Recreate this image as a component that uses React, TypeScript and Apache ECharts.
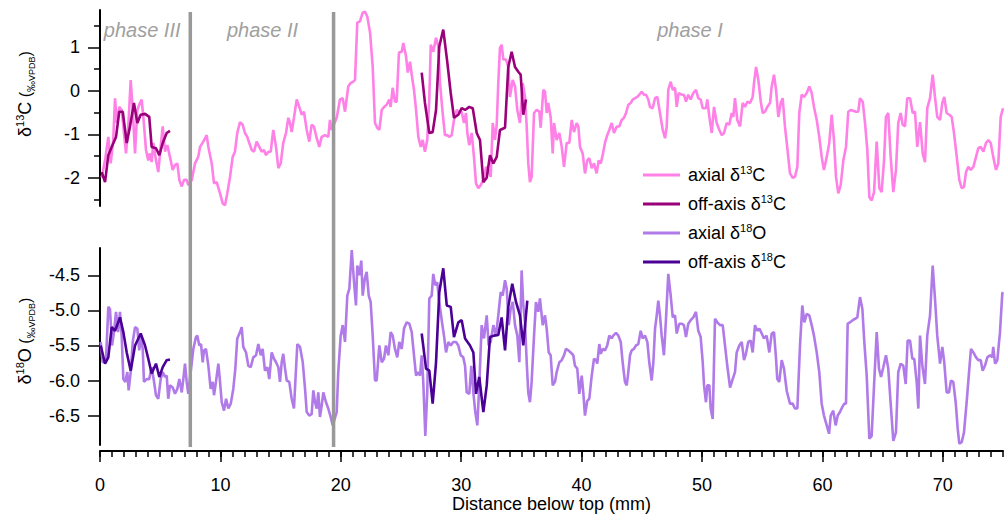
import React, { useEffect, useRef } from "react";
import * as echarts from "echarts";

const FONT = '"Liberation Sans", Arial, Helvetica, sans-serif';

// ---------- data: [distance (mm), value] ----------
const axialC13 = [
  [0.14,-2.0],[0.42,-1.6],[0.69,-1.06],[0.89,-1.67],[1.10,-1.13],[1.25,-0.17],[1.39,-0.74],[1.60,-0.37],[1.80,-0.44],[1.94,-0.82],
  [2.16,-1.44],[2.35,-0.82],[2.55,0.25],[2.72,-0.44],[2.91,-1.44],[3.10,-0.44],[3.32,-0.28],[3.46,-0.2],[3.60,-0.6],[3.82,-1.36],
  [4.01,-1.6],[4.15,-1.44],[4.29,-1.64],[4.43,-1.2],[4.65,-1.6],[4.84,-1.87],[5.04,-1.29],[5.21,-0.82],[5.40,-1.4],[5.59,-1.25],
  [5.81,-1.52],[6.04,-1.82],[6.23,-1.71],[6.42,-1.67],[6.59,-2.05],[6.79,-2.2],[6.98,-2.05],[7.20,-2.05],[7.33,-2.17],[7.62,-2.05],
  [7.89,-1.67],[8.16,-1.52],[8.31,-1.29],[8.58,-1.17],[8.86,-1.02],[9.00,-1.29],[9.28,-1.67],[9.47,-2.13],[9.69,-2.1],[9.97,-2.36],
  [10.19,-2.59],[10.38,-2.63],[10.57,-2.36],[10.80,-1.98],[11.02,-1.52],[11.21,-1.4],[11.40,-0.97],[11.63,-0.72],[11.85,-0.78],[12.04,-0.97],
  [12.23,-1.06],[12.40,-1.2],[12.60,-1.36],[12.79,-1.4],[13.01,-1.17],[13.23,-1.29],[13.43,-1.4],[13.62,-1.36],[13.79,-1.48],[13.98,-1.4],
  [14.18,-1.4],[14.39,-0.9],[14.62,-1.29],[14.81,-1.78],[15.01,-1.67],[15.22,-1.2],[15.45,-0.97],[15.64,-0.62],[15.78,-0.74],[15.92,-0.95],
  [16.11,-0.62],[16.34,-0.2],[16.55,-0.37],[16.75,-0.55],[16.94,-0.48],[17.17,-0.9],[17.38,-1.17],[17.58,-0.78],[17.77,-0.82],[18.00,-1.09],
  [18.21,-1.29],[18.41,-1.06],[18.69,-1.02],[18.96,-1.06],[19.10,-0.67],[19.24,-0.9],[19.66,-0.62],[19.93,-0.2],[20.16,-0.17],[20.35,-0.48],
  [20.62,0.1],[20.82,0.18],[21.04,0.21],[21.18,0.25],[21.37,1.57],[21.59,1.6],[21.82,1.8],[22.01,1.82],[22.20,1.71],[22.43,1.34],
  [22.65,0.55],[22.84,-0.74],[23.03,-0.85],[23.20,-0.9],[23.40,-0.44],[23.59,-0.37],[23.81,-0.32],[24.03,-0.2],[24.14,-0.37],[24.31,0.07],
  [24.50,-0.25],[24.64,-0.25],[24.83,0.88],[25.06,0.9],[25.19,1.1],[25.42,0.79],[25.56,0.42],[25.75,0.67],[25.89,0.37],[26.08,0.02],
  [26.25,-0.44],[26.44,-1.06],[26.64,-1.29],[26.80,-1.13],[26.99,-1.4],[27.18,-1.13],[27.35,-0.2],[27.47,1.06],[27.68,0.9],[27.91,1.22],
  [28.10,1.02],[28.24,0.18],[28.46,-0.51],[28.65,-1.02],[28.85,-1.02],[29.01,-1.06],[29.21,-1.02],[29.40,-0.67],[29.63,-0.44],[29.84,-0.51],
  [30.04,-0.48],[30.23,-0.74],[30.40,-0.51],[30.51,-0.97],[30.67,-1.25],[30.87,-0.97],[31.06,-1.52],[31.23,-2.13],[31.42,-2.24],[31.62,-2.17],
  [31.84,-2.05],[32.06,-1.75],[32.25,-1.82],[32.45,-1.98],[32.62,-0.74],[32.81,-1.13],[32.95,-0.78],[33.08,0.18],[33.22,0.99],[33.36,1.06],
  [33.50,0.72],[33.72,0.72],[33.91,0.55],[34.05,-0.14],[34.28,0.25],[34.47,0.1],[34.66,-0.44],[34.88,-0.74],[35.11,0.18],[35.30,-0.14],
  [35.44,-0.82],[35.57,-1.67],[35.71,-2.1],[35.85,-1.98],[36.05,-0.51],[36.27,-0.44],[36.49,-0.48],[36.60,-0.85],[36.82,0.02],[36.96,-0.02],
  [37.10,-0.51],[37.23,-0.28],[37.43,-0.6],[37.60,-1.44],[37.71,-0.74],[37.93,-1.13],[38.15,-0.97],[38.35,-1.29],[38.54,-1.75],[38.76,-1.2],
  [38.98,-1.2],[39.18,-0.67],[39.37,-0.95],[39.59,-0.74],[39.73,-0.82],[39.87,-1.29],[40.09,-1.44],[40.28,-1.9],[40.47,-1.6],[40.64,-1.55],
  [40.84,-1.78],[41.03,-1.67],[41.25,-1.9],[41.42,-1.6],[41.59,-1.67],[41.75,-1.48],[41.94,-1.2],[42.13,-1.02],[42.30,-0.9],[42.50,-0.74],
  [42.69,-0.97],[42.92,-0.82],[43.13,-0.82],[43.33,-0.67],[43.52,-0.62],[43.69,-0.51],[43.88,-0.32],[44.08,-0.28],[44.24,-0.2],[44.44,-0.17],
  [44.63,-0.14],[44.79,-0.09],[44.99,-0.02],[45.18,-0.09],[45.35,-0.09],[45.54,-0.2],[45.68,-0.37],[45.90,-0.4],[46.10,-0.17],[46.29,-0.14],
  [46.51,-0.51],[46.74,-0.9],[46.93,-1.09],[47.07,-0.82],[47.20,0.02],[47.40,0.21],[47.57,0.02],[47.76,0.07],[47.90,-0.37],[48.06,-0.05],
  [48.31,-0.09],[48.50,-0.09],[48.67,-0.25],[48.86,-0.09],[49.06,-0.2],[49.28,-0.05],[49.50,0.02],[49.69,-0.17],[49.89,-0.2],[50.06,-0.4],
  [50.33,-0.4],[50.44,-0.2],[50.61,-0.6],[50.81,-0.97],[51.00,-0.37],[51.22,-0.74],[51.44,-0.9],[51.64,-1.02],[51.83,-0.97],[52.05,-0.74],
  [52.27,-0.78],[52.47,-0.51],[52.60,-0.6],[52.74,-0.17],[52.93,-0.67],[53.16,-0.82],[53.38,-0.28],[53.57,-0.37],[53.76,-0.25],[53.99,-0.28],
  [54.21,-0.14],[54.32,0.18],[54.49,0.55],[54.68,0.25],[54.88,-0.25],[55.04,-0.51],[55.23,-0.48],[55.42,-0.37],[55.65,-0.28],[55.79,0.1],
  [55.98,0.37],[56.15,0.02],[56.34,-0.6],[56.54,-0.28],[56.70,-0.17],[56.89,-0.82],[57.08,-1.3],[57.31,-1.9],[57.53,-2.0],[57.72,-1.98],
  [57.92,-1.75],[58.08,-0.51],[58.28,-0.09],[58.47,-0.14],[58.70,-0.05],[58.91,0.1],[59.11,-0.05],[59.30,-0.37],[59.53,-0.67],[59.74,-1.06],
  [59.94,-1.52],[60.13,-1.82],[60.36,-1.52],[60.57,-1.2],[60.77,-0.55],[60.96,-1.13],[61.13,-1.98],[61.32,-2.36],[61.52,-2.17],[61.74,-1.6],
  [61.96,-1.29],[62.15,-0.48],[62.35,-0.44],[62.57,-0.46],[62.79,-0.48],[62.98,-0.48],[63.12,-0.17],[63.35,-0.25],[63.54,-0.74],[63.73,-1.36],
  [63.90,-2.45],[64.09,-2.52],[64.29,-2.33],[64.51,-1.17],[64.73,-2.24],[64.92,-2.33],[65.12,-1.6],[65.28,-0.6],[65.47,-0.51],[65.67,-1.52],
  [65.89,-2.33],[66.11,-1.82],[66.30,-0.74],[66.50,-0.51],[66.67,-0.78],[66.86,-0.82],[67.05,-0.17],[67.28,-0.17],[67.50,-0.51],[67.69,-0.48],
  [67.88,-1.29],[68.11,-0.72],[68.33,-1.44],[68.52,-1.64],[68.71,-0.4],[68.94,-0.17],[69.16,0.37],[69.35,-0.14],[69.54,-0.6],[69.77,-0.67],
  [69.96,-0.28],[70.12,-0.14],[70.32,-0.51],[70.54,-0.55],[70.74,-0.6],[70.93,-0.97],[71.16,-1.52],[71.37,-2.05],[71.57,-2.24],[71.76,-2.21],
  [71.93,-1.87],[72.12,-1.75],[72.32,-1.82],[72.54,-1.75],[72.76,-1.52],[72.95,-1.32],[73.15,-1.29],[73.37,-1.4],[73.59,-1.2],[73.78,-1.13],
  [73.98,-1.2],[74.19,-1.52],[74.42,-1.82],[74.61,-1.67],[74.81,-0.6],[75.0,-0.4]
];

const offAxisC13A = [
  [0.14,-1.87],[0.42,-2.1],[0.69,-1.48],[0.97,-1.29],[1.33,-1.06],[1.60,-0.48],[1.89,-0.48],[2.22,-1.2],[2.49,-0.82],[2.82,-0.28],
  [3.10,-0.74],[3.38,-0.55],[3.74,-0.53],[4.09,-0.6],[4.29,-1.29],[4.65,-1.32],[4.93,-1.48],[5.21,-1.2],[5.54,-0.97],[5.81,-0.92]
];
const offAxisC13B = [
  [26.72,0.42],[26.99,-0.28],[27.35,-0.97],[27.63,-0.95],[27.91,-0.44],[28.18,1.02],[28.51,1.41],[28.85,0.65],[29.13,-0.05],[29.40,-0.62],
  [29.76,-0.55],[30.04,-0.4],[30.32,-0.44],[30.67,-0.37],[30.96,-0.4],[31.29,-0.97],[31.56,-1.13],[31.84,-2.1],[32.12,-2.0],[32.39,-1.48],
  [32.67,-1.67],[32.95,-1.52],[33.22,-0.9],[33.64,-0.85],[33.91,0.55],[34.19,0.9],[34.47,0.55],[34.74,0.44],[34.94,0.37],[35.16,-0.55],[35.38,-0.2]
];

const axialO18 = [
  [0.06,-5.45],[0.22,-5.74],[0.50,-5.71],[0.69,-4.95],[0.83,-4.98],[1.00,-5.5],[1.16,-5.31],[1.33,-5.02],[1.50,-5.31],[1.66,-5.02],
  [1.80,-5.36],[1.94,-5.98],[2.10,-6.02],[2.27,-5.88],[2.38,-6.14],[2.55,-5.88],[2.72,-5.45],[2.91,-5.24],[3.10,-5.26],[3.26,-5.57],
  [3.38,-5.38],[3.55,-5.55],[3.65,-6.02],[3.88,-5.98],[4.09,-5.98],[4.29,-5.81],[4.49,-6.02],[4.65,-6.21],[4.84,-6.26],[5.04,-5.98],
  [5.21,-5.88],[5.40,-5.95],[5.54,-5.93],[5.67,-6.26],[5.81,-6.07],[6.04,-6.1],[6.23,-6.19],[6.42,-6.12],[6.59,-5.98],[6.79,-6.17],
  [6.92,-5.98],[7.06,-5.76],[7.20,-6.02],[7.33,-6.19],[7.75,-5.55],[7.97,-5.38],[8.08,-5.36],[8.25,-5.5],[8.39,-5.48],[8.53,-5.74],
  [8.64,-5.57],[8.80,-5.55],[9.00,-5.79],[9.19,-6.12],[9.36,-6.02],[9.47,-6.21],[9.63,-6.02],[9.83,-5.76],[9.97,-6.02],[10.11,-6.31],
  [10.30,-6.43],[10.47,-6.26],[10.66,-6.4],[10.86,-6.33],[11.07,-6.12],[11.24,-5.83],[11.40,-5.4],[11.63,-5.31],[11.77,-5.24],[11.90,-5.52],
  [12.13,-5.6],[12.32,-5.79],[12.52,-5.81],[12.73,-5.67],[12.96,-5.64],[13.15,-5.48],[13.35,-5.64],[13.51,-5.55],[13.70,-5.86],[13.90,-5.81],
  [14.06,-5.98],[14.26,-5.6],[14.45,-5.69],[14.62,-5.74],[14.81,-5.81],[14.95,-6.02],[15.09,-5.74],[15.22,-5.62],[15.37,-5.83],[15.51,-6.0],
  [15.72,-6.02],[15.92,-6.26],[16.11,-6.4],[16.28,-5.83],[16.39,-5.48],[16.61,-5.52],[16.84,-5.74],[17.03,-6.12],[17.17,-6.45],[17.38,-6.5],
  [17.58,-6.48],[17.72,-6.14],[17.86,-6.31],[18.00,-6.4],[18.13,-6.17],[18.27,-6.52],[18.41,-6.36],[18.55,-6.17],[18.77,-6.31],[18.96,-6.4],
  [19.16,-6.52],[19.33,-6.64],[19.66,-6.45],[19.79,-5.88],[19.99,-5.36],[20.16,-5.21],[20.35,-5.45],[20.54,-4.79],[20.71,-4.69],[20.91,-4.14],
  [21.10,-4.6],[21.26,-4.93],[21.37,-4.36],[21.54,-4.5],[21.70,-4.29],[21.82,-4.79],[21.99,-4.55],[22.15,-4.45],[22.32,-4.79],[22.48,-4.88],
  [22.65,-5.36],[22.84,-6.0],[22.98,-6.0],[23.20,-5.5],[23.40,-5.74],[23.59,-5.69],[23.75,-5.5],[23.95,-5.64],[24.14,-5.31],[24.31,-5.36],
  [24.50,-5.55],[24.69,-5.67],[24.86,-5.45],[25.06,-5.55],[25.25,-5.26],[25.47,-5.17],[25.69,-5.19],[25.89,-5.31],[26.08,-5.64],[26.25,-5.93],
  [26.44,-5.88],[26.58,-5.93],[26.72,-5.64],[26.85,-6.02],[27.02,-6.79],[27.18,-6.17],[27.35,-4.83],[27.55,-4.79],[27.68,-4.48],[27.85,-4.64],
  [28.01,-4.6],[28.18,-4.88],[28.38,-5.14],[28.57,-5.36],[28.74,-5.6],[28.93,-5.45],[29.13,-5.5],[29.34,-5.45],[29.57,-5.45],[29.76,-5.5],
  [29.96,-5.64],[30.17,-5.67],[30.32,-5.79],[30.46,-6.17],[30.67,-6.19],[30.84,-5.79],[31.01,-6.17],[31.17,-6.45],[31.34,-6.64],[31.50,-6.07],
  [31.70,-5.21],[31.89,-5.4],[32.12,-5.07],[32.28,-5.5],[32.45,-5.45],[32.67,-5.21],[32.89,-5.36],[33.08,-5.07],[33.28,-4.74],[33.45,-4.79],
  [33.64,-4.57],[33.78,-4.69],[33.95,-5.21],[34.11,-4.98],[34.28,-4.88],[34.47,-5.21],[34.66,-5.36],[34.83,-5.74],[35.02,-4.43],[35.16,-4.93],
  [35.30,-5.17],[35.44,-5.74],[35.57,-6.17],[35.71,-6.31],[35.85,-6.02],[36.05,-5.36],[36.21,-4.88],[36.40,-5.02],[36.54,-4.83],[36.77,-5.21],
  [36.96,-5.07],[37.10,-5.26],[37.27,-5.6],[37.43,-5.64],[37.60,-6.07],[37.79,-6.02],[37.93,-5.88],[38.15,-5.74],[38.35,-5.71],[38.54,-5.64],
  [38.70,-5.55],[38.90,-5.57],[39.09,-5.6],[39.31,-5.64],[39.45,-5.79],[39.64,-5.83],[39.81,-6.19],[40.01,-5.93],[40.14,-6.17],[40.28,-6.5],
  [40.47,-6.29],[40.64,-6.26],[40.84,-5.93],[41.03,-5.69],[41.20,-5.71],[41.30,-5.76],[41.47,-5.48],[41.59,-5.62],[41.75,-5.55],[41.94,-5.57],
  [42.13,-5.5],[42.30,-5.36],[42.50,-5.4],[42.63,-5.36],[42.86,-5.32],[43.05,-5.36],[43.25,-5.45],[43.41,-5.74],[43.60,-6.02],[43.75,-6.07],
  [43.88,-5.88],[44.02,-5.64],[44.16,-5.57],[44.35,-5.55],[44.52,-5.5],[44.71,-5.48],[44.91,-5.29],[45.07,-5.4],[45.27,-5.36],[45.46,-5.45],
  [45.62,-5.74],[45.82,-6.0],[45.96,-5.74],[46.10,-5.26],[46.24,-5.07],[46.37,-4.86],[46.51,-5.07],[46.65,-5.36],[46.84,-5.64],[47.01,-5.12],
  [47.20,-4.48],[47.40,-4.79],[47.57,-5.1],[47.76,-5.07],[47.90,-5.33],[48.11,-5.19],[48.31,-5.19],[48.50,-5.21],[48.67,-5.38],[48.86,-5.19],
  [49.06,-5.14],[49.28,-5.1],[49.50,-5.02],[49.69,-5.29],[49.89,-5.38],[50.06,-5.74],[50.17,-6.07],[50.33,-6.31],[50.44,-6.07],[50.61,-6.07],
  [50.72,-6.4],[50.89,-6.55],[51.08,-5.12],[51.27,-5.17],[51.50,-5.21],[51.72,-5.21],[51.91,-5.5],[52.10,-5.79],[52.33,-6.1],[52.55,-5.98],
  [52.74,-5.88],[52.88,-5.6],[53.10,-5.5],[53.30,-5.45],[53.49,-5.71],[53.65,-5.62],[53.84,-5.45],[54.04,-5.43],[54.21,-5.6],[54.40,-5.21],
  [54.59,-5.29],[54.76,-5.26],[54.96,-5.33],[55.15,-5.4],[55.37,-5.36],[55.59,-5.6],[55.79,-5.33],[55.98,-5.31],[56.15,-5.69],[56.25,-5.98],
  [56.42,-6.02],[56.62,-5.71],[56.81,-5.83],[57.04,-6.15],[57.31,-6.33],[57.53,-6.33],[57.72,-6.4],[57.92,-6.4],[58.14,-5.5],[58.33,-4.93],
  [58.50,-5.17],[58.70,-5.05],[58.91,-5.07],[59.11,-5.21],[59.30,-5.36],[59.53,-5.6],[59.74,-5.88],[59.94,-6.33],[60.13,-6.5],[60.36,-6.64],
  [60.55,-6.76],[60.69,-6.5],[60.90,-6.43],[61.10,-6.64],[61.27,-6.5],[61.46,-6.45],[61.65,-6.38],[61.82,-6.33],[61.96,-6.33],[62.10,-5.19],
  [62.29,-5.17],[62.52,-5.14],[62.71,-5.12],[62.90,-5.1],[63.12,-4.81],[63.32,-4.98],[63.48,-5.45],[63.68,-5.93],[63.90,-6.83],[64.09,-6.79],
  [64.29,-6.07],[64.51,-5.31],[64.70,-5.83],[64.87,-5.95],[65.06,-5.81],[65.28,-5.64],[65.47,-5.83],[65.70,-6.4],[65.89,-6.86],[66.11,-6.74],
  [66.30,-5.88],[66.50,-5.76],[66.72,-5.79],[66.92,-6.05],[67.08,-5.43],[67.28,-5.43],[67.47,-5.69],[67.63,-5.69],[67.83,-6.02],[67.97,-6.4],
  [68.11,-5.36],[68.30,-5.79],[68.52,-6.05],[68.71,-5.36],[68.94,-5.07],[69.16,-4.36],[69.35,-4.83],[69.54,-5.36],[69.77,-5.76],[69.96,-5.52],
  [70.12,-5.74],[70.32,-6.17],[70.51,-6.17],[70.68,-6.0],[70.87,-6.02],[71.07,-6.31],[71.24,-6.69],[71.37,-6.9],[71.57,-6.88],[71.76,-6.74],
  [71.98,-6.31],[72.18,-5.88],[72.34,-5.55],[72.54,-5.6],[72.76,-5.67],[72.95,-5.71],[73.15,-5.71],[73.31,-5.86],[73.50,-5.79],[73.70,-5.67],
  [73.92,-5.64],[74.11,-5.67],[74.19,-5.52],[74.34,-5.76],[74.53,-5.71],[74.75,-5.31],[74.94,-4.76],[75.0,-4.74]
];

const offAxisO18A = [
  [0.06,-5.5],[0.42,-5.76],[0.69,-5.67],[0.97,-5.24],[1.25,-5.29],[1.66,-5.1],[1.94,-5.31],[2.22,-5.6],[2.55,-5.86],[2.91,-5.5],
  [3.38,-5.33],[3.74,-5.5],[4.01,-5.69],[4.29,-5.9],[4.65,-5.76],[4.93,-5.95],[5.21,-5.81],[5.54,-5.71],[5.81,-5.7]
];
const offAxisO18B = [
  [26.72,-5.33],[27.08,-5.83],[27.35,-5.86],[27.63,-6.33],[27.91,-5.74],[28.18,-4.74],[28.51,-4.4],[28.80,-4.93],[29.13,-4.95],[29.40,-5.38],
  [29.76,-5.17],[30.04,-5.14],[30.32,-5.4],[30.73,-5.5],[31.01,-5.6],[31.23,-6.19],[31.50,-5.95],[31.84,-6.45],[32.12,-6.07],[32.39,-5.38],
  [32.72,-5.36],[33.08,-5.35],[33.36,-5.1],[33.64,-5.57],[33.91,-4.95],[34.24,-4.62],[34.55,-4.88],[34.88,-5.07],[35.16,-5.5],[35.49,-4.86]
];

// ---------- axes / annotations ----------
const xMajorTicks = [0, 10, 20, 30, 40, 50, 60, 70];
const xMinorTicks = [
  0,1,2,3,4,5,6,7,8,9,10,11,12,13,14,15,16,17,18,19,20,21,22,23,24,25,26,27,28,29,30,31,32,33,34,35,36,37,
  38,39,40,41,42,43,44,45,46,47,48,49,50,51,52,53,54,55,56,57,58,59,60,61,62,63,64,65,66,67,68,69,70,71,72,73,74,75
];
const c13MajorTicks = [-2, -1, 0, 1];
const c13MinorTicks = [-2.5, -1.5, -0.5, 0.5, 1.5];
const o18Ticks = [-6.5, -6.0, -5.5, -5.0, -4.5];
const phaseBounds = [7.5, 19.4];
const phaseNames = ["phase III", "phase II", "phase I"];
const phaseLabelX = [3.5, 13.5, 49.0];

const NAME_AC = "axial δ13C";
const NAME_OC = "off-axis δ13C";
const NAME_AO = "axial δ18O";
const NAME_OO = "off-axis δ18C";

const COLORS: Record<string, string> = {
  [NAME_AC]: "#ff80e6",
  [NAME_OC]: "#99007a",
  [NAME_AO]: "#b07ae8",
  [NAME_OO]: "#4b0096",
};

const legendRich: Record<string, string> = {
  [NAME_AC]: "{t|axial δ}{s|13}{t|C}",
  [NAME_OC]: "{t|off-axis δ}{s|13}{t|C}",
  [NAME_AO]: "{t|axial δ}{s|18}{t|O}",
  [NAME_OO]: "{t|off-axis δ}{s|18}{t|C}",
};

// layout
const G1 = { left: 100, right: 2, top: 10, height: 196 };
const G2 = { left: 100, right: 2, top: 248, height: 197 };

const richStyles = {
  t: { fontSize: 18, fontFamily: FONT, color: "#000", lineHeight: 22, verticalAlign: "middle" },
  s: { fontSize: 11, fontFamily: FONT, color: "#000", lineHeight: 12, verticalAlign: "top" },
  p: { fontSize: 16, fontFamily: FONT, color: "#000", lineHeight: 20, verticalAlign: "middle" },
  m: { fontSize: 11, fontFamily: FONT, color: "#000", lineHeight: 13, verticalAlign: "bottom" },
  u: { fontSize: 9, fontFamily: FONT, color: "#000", lineHeight: 10, verticalAlign: "bottom" },
};

function lineSeries(name: string, data: number[][], xi: number, yi: number, z: number) {
  return {
    type: "line",
    name,
    data,
    xAxisIndex: xi,
    yAxisIndex: yi,
    symbol: "none",
    showSymbol: false,
    clip: true,
    z,
    lineStyle: { color: COLORS[name], width: 2.6 },
    itemStyle: { color: COLORS[name] },
    emphasis: { disabled: true },
  };
}

const axisLineStyle = { color: "#000", width: 2 };
const tickStyle = { color: "#000", width: 1.5 };

export default function App() {
  const ref = useRef<HTMLDivElement>(null);

  useEffect(() => {
    document.body.style.margin = "0";
    const chart = echarts.init(ref.current!, null, { renderer: "svg" });

    const option: any = {
      animation: false,
      backgroundColor: "#fff",
      textStyle: { fontFamily: FONT },
      grid: [G1, G2],
      xAxis: [
        { type: "value", gridIndex: 0, min: 0, max: 75, show: false },
        {
          type: "value", gridIndex: 1, min: 0, max: 75, position: "bottom", offset: 6,
          axisLine: { show: true, onZero: false, lineStyle: axisLineStyle },
          axisTick: { show: true, customValues: xMajorTicks, length: 11, lineStyle: tickStyle },
          axisLabel: { show: true, customValues: xMajorTicks, fontSize: 18, color: "#000", margin: 25, fontFamily: FONT },
          splitLine: { show: false },
          name: "Distance below top (mm)",
          nameLocation: "middle",
          nameGap: 44,
          nameTextStyle: { fontSize: 18, color: "#000", fontFamily: FONT },
        },
        {
          type: "value", gridIndex: 1, min: 0, max: 75, position: "bottom", offset: 6,
          axisLine: { show: false },
          axisTick: { show: true, customValues: xMinorTicks, length: 6, lineStyle: tickStyle },
          axisLabel: { show: false },
          splitLine: { show: false },
        },
      ],
      yAxis: [
        {
          type: "value", gridIndex: 0, min: -2.65, max: 1.86, position: "left",
          axisLine: { show: true, onZero: false, lineStyle: axisLineStyle },
          axisTick: { show: true, customValues: c13MajorTicks, length: 12, lineStyle: tickStyle },
          axisLabel: { show: true, customValues: c13MajorTicks, fontSize: 18, color: "#000", margin: 20, fontFamily: FONT },
          splitLine: { show: false },
        },
        {
          type: "value", gridIndex: 0, min: -2.65, max: 1.86, position: "left",
          axisLine: { show: false },
          axisTick: { show: true, customValues: c13MinorTicks, length: 6, lineStyle: tickStyle },
          axisLabel: { show: false },
          splitLine: { show: false },
        },
        {
          type: "value", gridIndex: 1, min: -6.92, max: -4.11, position: "left",
          axisLine: { show: true, onZero: false, lineStyle: axisLineStyle },
          axisTick: { show: true, customValues: o18Ticks, length: 12, lineStyle: tickStyle },
          axisLabel: {
            show: true, customValues: o18Ticks, fontSize: 18, color: "#000", margin: 20, fontFamily: FONT,
            formatter: (v: number) => v.toFixed(1),
          },
          splitLine: { show: false },
        },
      ],
      legend: {
        data: [NAME_AC, NAME_OC, NAME_AO, NAME_OO],
        orient: "vertical",
        left: 643,
        top: 164,
        padding: 0,
        itemGap: 9,
        itemWidth: 37,
        itemHeight: 3,
        icon: "rect",
        selectedMode: false,
        formatter: (name: string) => legendRich[name] || name,
        textStyle: { fontSize: 18, color: "#000", fontFamily: FONT, padding: [0, 0, 0, 3], rich: richStyles },
      },
      series: [
        lineSeries(NAME_AC, axialC13, 0, 0, 2),
        lineSeries(NAME_OC, offAxisC13A, 0, 0, 3),
        lineSeries(NAME_OC, offAxisC13B, 0, 0, 3),
        lineSeries(NAME_AO, axialO18, 1, 2, 2),
        lineSeries(NAME_OO, offAxisO18A, 1, 2, 3),
        lineSeries(NAME_OO, offAxisO18B, 1, 2, 3),
      ],
    };

    chart.setOption(option);

    const toPx = (v: number) => chart.convertToPixel({ xAxisIndex: 1 }, v) as number;
    const yTop = G1.top + 2;
    const yBottom = G2.top + G2.height + 2;

    const graphics: any[] = [];
    phaseBounds.forEach((b, i) => {
      const px = toPx(b);
      graphics.push({
        type: "line",
        id: "bound" + i,
        z: 50,
        silent: true,
        shape: { x1: px, y1: yTop, x2: px, y2: yBottom },
        style: { stroke: "#999999", lineWidth: 3.5 },
      });
    });
    phaseNames.forEach((n, i) => {
      graphics.push({
        type: "text",
        id: "phase" + i,
        z: 50,
        silent: true,
        x: toPx(phaseLabelX[i]),
        y: 30,
        style: {
          text: n,
          fill: "#a0a0a0",
          font: `italic 20px ${FONT}`,
          align: "center",
          verticalAlign: "middle",
        },
      });
    });
    // rotated y-axis titles
    const titleSpecs = [
      { text: "{t|δ}{s|13}{t|C}{p| (}{m|‰}{u|VPDB}{p|)}", y: 94 },
      { text: "{t|δ}{s|18}{t|O}{p| (}{m|‰}{u|VPDB}{p|)}", y: 341 },
    ];
    titleSpecs.forEach((t, i) => {
      graphics.push({
        type: "text",
        id: "ytitle" + i,
        z: 50,
        silent: true,
        x: 25,
        y: t.y,
        rotation: Math.PI / 2,
        style: {
          text: t.text,
          rich: richStyles,
          align: "center",
          verticalAlign: "middle",
        },
      });
    });

    chart.setOption({ graphic: graphics });

    return () => chart.dispose();
  }, []);

  return <div ref={ref} style={{ width: 1005, height: 515 }} />;
}
